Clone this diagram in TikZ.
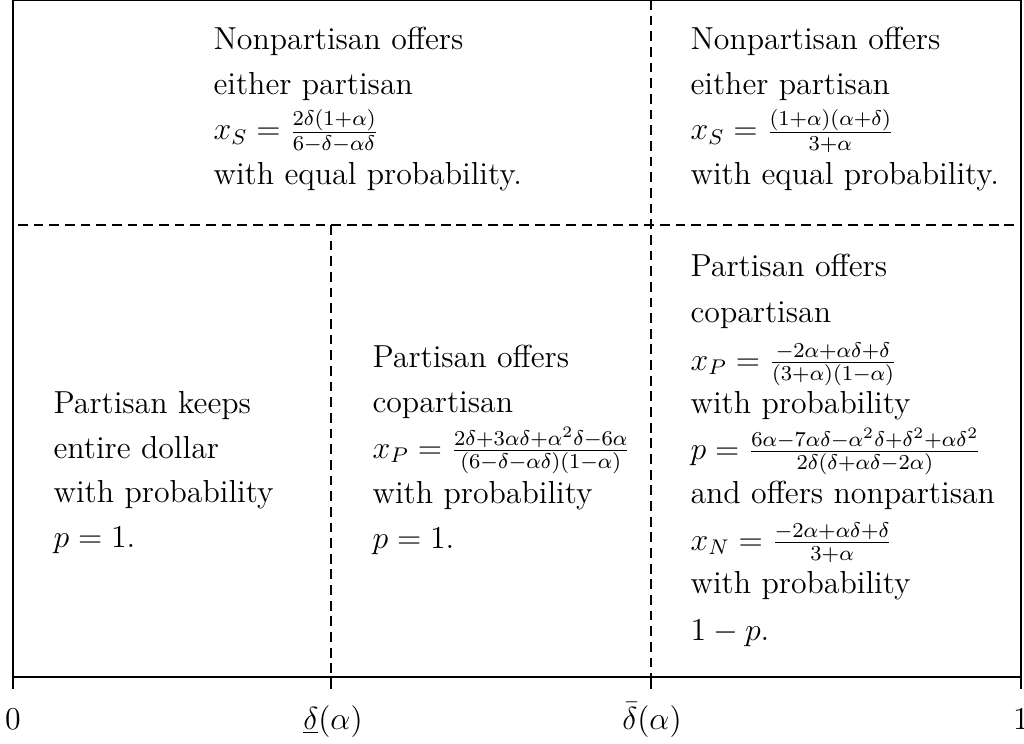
\documentclass[12pt,tikz,border=0pt]{standalone}
\begin{document}
\begin{tikzpicture}[x=0.3768pt,y=-0.3768pt,
  txt/.style={anchor=base west,inner sep=0pt},
  lab/.style={anchor=base,inner sep=0pt},
  solidline/.style={line width=0.9pt},
  dashline/.style={line width=0.75pt,dash pattern=on 3.7pt off 2.2pt}]
\useasboundingbox (0,0) rectangle (1024,744);
% frame and axis
\draw[solidline] (13,689) -- (13,0) -- (1021,0) -- (1021,689);
\draw[solidline] (13,677) -- (1021,677);
\draw[dashline] (18,225) -- (1018,225);
\draw[dashline] (331,225) -- (331,677);
\draw[dashline] (651,0) -- (651,677);
\draw[solidline] (331,677) -- (331,689);
\draw[solidline] (651,677) -- (651,689);
% axis labels
\node[lab] (l0) at (13,729) {$0$};
\node[lab] (l1) at (333,729) {$\underline{\delta}(\alpha)$};
\node[lab] (l2) at (652,729) {$\bar{\delta}(\alpha)$};
\node[lab] (l3) at (1021,729) {$1$};
% top-left block
\foreach \y/\t [count=\i] in {50/{Nonpartisan offers},95/{either partisan},140/{$x_S = \frac{2\delta(1+\alpha)}{6-\delta-\alpha\delta}$},185/{with equal probability.}}
  \node[txt] (a\i) at (213,\y) {\t};
% top-right block
\foreach \y/\t [count=\i] in {50/{Nonpartisan offers},95/{either partisan},140/{$x_S = \frac{(1+\alpha)(\alpha+\delta)}{3+\alpha}$},185/{with equal probability.}}
  \node[txt] (b\i) at (690,\y) {\t};
% bottom-left block
\foreach \y/\t [count=\i] in {413/{Partisan keeps},458/{entire dollar},502/{with probability},547/{$p=1.$}}
  \node[txt] (c\i) at (53,\y) {\t};
% bottom-middle block
\foreach \y/\t [count=\i] in {367/{Partisan offers},412/{copartisan},458/{$x_P = \frac{2\delta+3\alpha\delta+\alpha^2\delta-6\alpha}{(6-\delta-\alpha\delta)(1-\alpha)}$},503/{with probability},548/{$p=1.$}}
  \node[txt] (d\i) at (372,\y) {\t};
% bottom-right block
\foreach \y/\t [count=\i] in {277/{Partisan offers},322/{copartisan},370/{$x_P = \frac{-2\alpha+\alpha\delta+\delta}{(3+\alpha)(1-\alpha)}$},413/{with probability},459/{$p = \frac{6\alpha-7\alpha\delta-\alpha^2\delta+\delta^2+\alpha\delta^2}{2\delta(\delta+\alpha\delta-2\alpha)}$},503/{and offers nonpartisan},550/{$x_N = \frac{-2\alpha+\alpha\delta+\delta}{3+\alpha}$},593/{with probability},640/{$1-p.$}}
  \node[txt] (e\i) at (690,\y) {\t};
\end{tikzpicture}
\end{document}
